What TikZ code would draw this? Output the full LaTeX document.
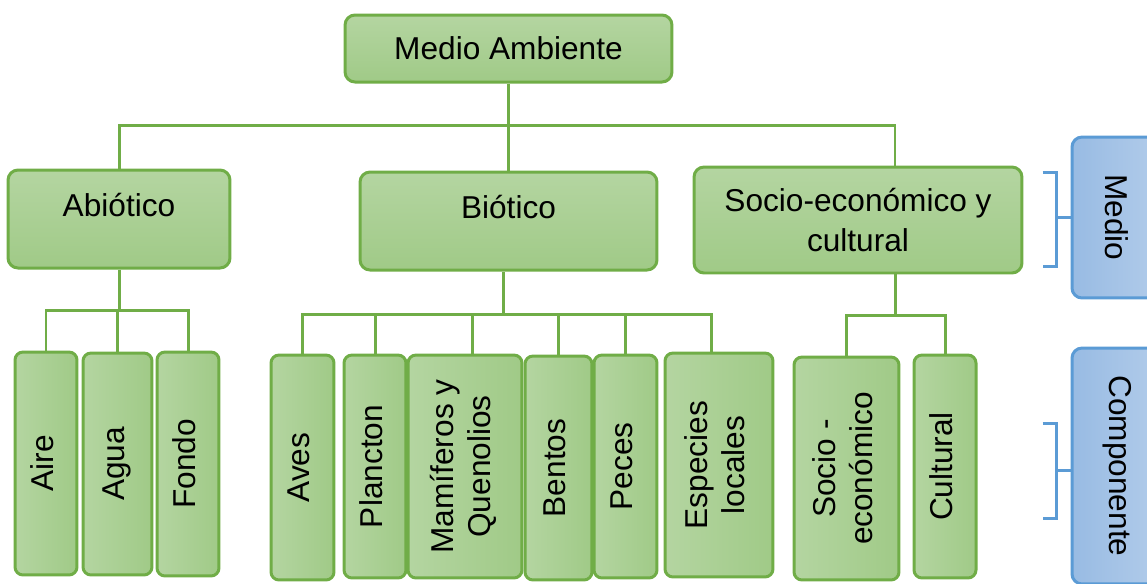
\documentclass[tikz,border=0pt]{standalone}
\usepackage{fontspec}
\setmainfont{Liberation Sans}
\usepackage{graphicx}
\definecolor{verde}{HTML}{70AD47}
\definecolor{verdeA}{HTML}{B4D5A1}
\definecolor{verdeB}{HTML}{A0CA87}
\definecolor{azul}{HTML}{5B9BD5}
\definecolor{azulA}{HTML}{98BBE3}
\definecolor{azulB}{HTML}{B2CCEA}
\tikzset{
  caja/.style={draw=verde, line width=0.06cm, rounded corners=0.2cm, inner sep=0pt,
    align=center, font=\fontsize{18}{21}\selectfont},
  cajaarriba/.style={caja, top color=verdeA, bottom color=verdeB},
  textoalto/.style={text depth=0.58cm},
  hoja/.style={caja, rounded corners=0.16cm, left color=verdeA, right color=verdeB},
  nivel/.style={caja, draw=azul, left color=azulA, right color=azulB},
  linea/.style={draw=verde, line width=0.06cm},
  llave/.style={draw=azul, line width=0.06cm}
}
\newcommand{\textoarriba}[1]{\rotatebox{90}{\begin{tabular}{@{}c@{}}#1\end{tabular}}}
\newcommand{\textoabajo}[1]{\rotatebox{-90}{#1}}
\begin{document}
\begin{tikzpicture}[x=0.02cm,y=-0.02cm]
                        \clip (0,0) rectangle (1147,583);

                        \node[cajaarriba, minimum width=6.54cm, minimum height=1.34cm] (ma) at (508.5,48.5) {Medio Ambiente};

                        \node[cajaarriba, textoalto, minimum width=4.44cm, minimum height=1.96cm] (abio) at (119,219) {Abiótico};
                        \node[cajaarriba, textoalto, minimum width=5.94cm, minimum height=1.96cm] (bio) at (508.5,221) {Biótico};
                        \node[cajaarriba, font=\fontsize{18}{22.5}\selectfont, minimum width=6.56cm, minimum height=2.12cm] (soc) at (858,220) {Socio-económico y\\cultural};

                        \node[hoja, minimum width=1.24cm, minimum height=4.46cm] (aire) at (46,463.5) {\textoarriba{Aire}};
                        \node[hoja, minimum width=1.38cm, minimum height=4.44cm] (agua) at (117.5,464) {\textoarriba{Agua}};
                        \node[hoja, minimum width=1.24cm, minimum height=4.48cm] (fondo) at (188,464) {\textoarriba{Fondo}};

                        \node[hoja, minimum width=1.26cm, minimum height=4.5cm] (aves) at (302.5,467.5) {\textoarriba{Aves}};
                        \node[hoja, minimum width=1.24cm, minimum height=4.46cm] (planc) at (375,466.5) {\textoarriba{Plancton}};
                        \node[hoja, minimum width=2.28cm, minimum height=4.46cm] (mam) at (465,466.5) {\textoarriba{Mamíferos y\\Quenolios}};
                        \node[hoja, minimum width=1.34cm, minimum height=4.48cm] (bent) at (558.5,468) {\textoarriba{Bentos}};
                        \node[hoja, minimum width=1.26cm, minimum height=4.46cm] (pec) at (625.5,466.5) {\textoarriba{Peces}};
                        \node[hoja, minimum width=2.16cm, minimum height=4.48cm] (esp) at (719,465) {\textoarriba{Especies\\locales}};

                        \node[hoja, minimum width=2.1cm, minimum height=4.46cm] (soce) at (846.5,468.5) {\textoarriba{Socio -\\económico}};
                        \node[hoja, minimum width=1.24cm, minimum height=4.46cm] (cult) at (945,466.5) {\textoarriba{Cultural}};

                        \node[nivel, minimum width=1.8cm, minimum height=3.22cm] (medio) at (1117,217.5) {\textoabajo{Medio}};
                        \node[nivel, minimum width=1.8cm, minimum height=4.72cm] (comp) at (1117,466) {\textoabajo{Componente}};

                        \coordinate (barra) at (508,125);
                        \draw[linea] (ma.south) -- (bio.north);
                        \draw[linea] (abio.north) |- (barra) -| ([xshift=0.74cm]soc.north);

                        \coordinate (barA) at (118,310);
                        \draw[linea] (abio.south) -- (abio.south|-barA);
                        \draw[linea] (aire.north) |- (barA) -| (fondo.north);
                        \draw[linea] (agua.north) -- (agua.north|-barA);

                        \coordinate (barB) at (503,314);
                        \draw[linea] (barB) -- (barB|-bio.south);
                        \draw[linea] (aves.north) |- (barB) -| ([xshift=-0.16cm]esp.north);
                        \draw[linea] (planc.north) -- (planc.north|-barB);
                        \draw[linea] ([xshift=0.14cm]mam.north) -- ([xshift=0.14cm]mam.north|-barB);
                        \draw[linea] (bent.north) -- (bent.north|-barB);
                        \draw[linea] (pec.north) -- (pec.north|-barB);

                        \coordinate (barS) at (895,315);
                        \draw[linea] (barS) -- (barS|-soc.south);
                        \draw[linea] (soce.north) |- (barS) -| (cult.north);

                        \draw[llave] (medio.west) -- ++(-14,0);
                        \draw[llave] (medio.west) ++(-28,-45) -- ++(14,0) -- ++(0,94) -- ++(-14,0);
                        \draw[llave] (comp.west) ++(0,4) -- ++(-14,0);
                        \draw[llave] (comp.west) ++(-28,-43) -- ++(14,0) -- ++(0,95) -- ++(-14,0);
                    \end{tikzpicture}
\end{document}
